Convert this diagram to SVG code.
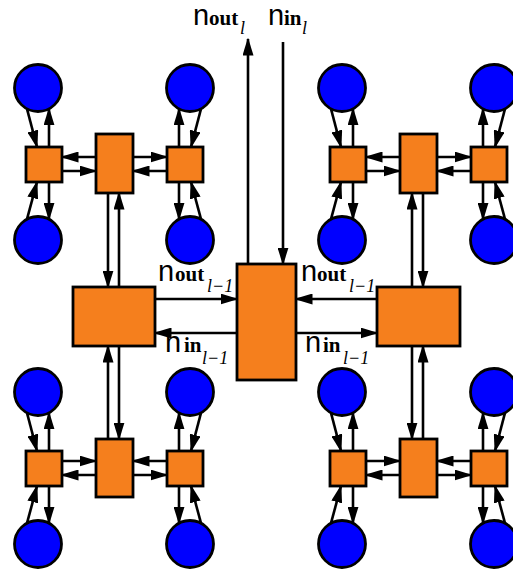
<svg xmlns="http://www.w3.org/2000/svg" width="513" height="569" viewBox="0 0 513 569">
<style>
.box{fill:#F57F1D;stroke:#000;stroke-width:2.8}
.dot{fill:#0000FF;stroke:#000;stroke-width:2.8}
.cn path{fill:none;stroke:#000;stroke-width:2.6;marker-end:url(#ah)}
.n{font-family:"Liberation Sans",Arial,sans-serif;font-size:29px}
.b{font-family:"Liberation Serif","Times New Roman",serif;font-weight:bold;font-size:21px}
.s{font-family:"Liberation Serif","Times New Roman",serif;font-style:italic;font-size:18px}
</style>
<defs>
<marker id="ah" markerWidth="18" markerHeight="11" refX="16.5" refY="5.5" orient="auto" markerUnits="userSpaceOnUse"><path d="M0,0 L18,5.5 L0,11 z" fill="#000"/></marker>
</defs>
<rect width="513" height="569" fill="#fff"/>
<g id="connectors" class="cn">
<!-- top-left cluster -->
<path d="M49,147 L49,108.8"/><path d="M27,108.8 L37,147"/>
<path d="M49,182 L49,219.2"/><path d="M27,219.2 L37,182"/>
<path d="M179,147 L179,108.8"/><path d="M201,108.8 L191,147"/>
<path d="M179,182 L179,219.2"/><path d="M201,219.2 L191,182"/>
<path d="M96,157 L62,157"/><path d="M62,171 L96,171"/>
<path d="M133,157 L167,157"/><path d="M167,171 L133,171"/>
<!-- bottom-left cluster -->
<path d="M49,451 L49,412.8"/><path d="M27,412.8 L37,451"/>
<path d="M49,486 L49,523.2"/><path d="M27,523.2 L37,486"/>
<path d="M179,451 L179,412.8"/><path d="M201,412.8 L191,451"/>
<path d="M179,486 L179,523.2"/><path d="M201,523.2 L191,486"/>
<path d="M62,461 L96,461"/><path d="M96,475 L62,475"/>
<path d="M167,461 L133,461"/><path d="M133,475 L167,475"/>
<!-- top-right cluster -->
<path d="M353,147 L353,108.8"/><path d="M331,108.8 L341,147"/>
<path d="M353,182 L353,219.2"/><path d="M331,219.2 L341,182"/>
<path d="M483,147 L483,108.8"/><path d="M505,108.8 L495,147"/>
<path d="M483,182 L483,219.2"/><path d="M505,219.2 L495,182"/>
<path d="M400,157 L366,157"/><path d="M366,171 L400,171"/>
<path d="M437,157 L471,157"/><path d="M471,171 L437,171"/>
<!-- bottom-right cluster -->
<path d="M353,451 L353,412.8"/><path d="M331,412.8 L341,451"/>
<path d="M353,486 L353,523.2"/><path d="M331,523.2 L341,486"/>
<path d="M483,451 L483,412.8"/><path d="M505,412.8 L495,451"/>
<path d="M483,486 L483,523.2"/><path d="M505,523.2 L495,486"/>
<path d="M366,461 L400,461"/><path d="M400,475 L366,475"/>
<path d="M471,461 L437,461"/><path d="M437,475 L471,475"/>
<!-- level links -->
<path d="M108,193 L108,287"/><path d="M119,287 L119,193"/>
<path d="M108,439 L108,346"/><path d="M119,346 L119,439"/>
<path d="M412,287 L412,193"/><path d="M423,193 L423,287"/>
<path d="M412,346 L412,439"/><path d="M423,439 L423,346"/>
<path d="M155,299 L237,299"/><path d="M237,333 L155,333"/>
<path d="M377,299 L296,299"/><path d="M296,333 L377,333"/>
<path d="M248,264 L248,39"/><path d="M283,42 L283,264"/>
</g>
<g id="tl">
<circle id="tl-c1" class="dot" cx="38" cy="88" r="23.5"/>
<circle id="tl-c2" class="dot" cx="190" cy="88" r="23.5"/>
<circle id="tl-c3" class="dot" cx="38" cy="240" r="23.5"/>
<circle id="tl-c4" class="dot" cx="190" cy="240" r="23.5"/>
<rect id="tl-a" class="box" x="26" y="147" width="36" height="35"/>
<rect id="tl-b" class="box" x="167" y="147" width="36" height="35"/>
<rect id="tl-m" class="box" x="96" y="134" width="37" height="59"/>
</g>
<g id="bl">
<circle id="bl-c1" class="dot" cx="38" cy="392" r="23.5"/>
<circle id="bl-c2" class="dot" cx="190" cy="392" r="23.5"/>
<circle id="bl-c3" class="dot" cx="38" cy="544" r="23.5"/>
<circle id="bl-c4" class="dot" cx="190" cy="544" r="23.5"/>
<rect id="bl-a" class="box" x="26" y="451" width="36" height="35"/>
<rect id="bl-b" class="box" x="167" y="451" width="36" height="35"/>
<rect id="bl-m" class="box" x="96" y="439" width="37" height="58"/>
</g>
<g id="tr">
<circle id="tr-c1" class="dot" cx="342" cy="88" r="23.5"/>
<circle id="tr-c2" class="dot" cx="494" cy="88" r="23.5"/>
<circle id="tr-c3" class="dot" cx="342" cy="240" r="23.5"/>
<circle id="tr-c4" class="dot" cx="494" cy="240" r="23.5"/>
<rect id="tr-a" class="box" x="330" y="147" width="36" height="35"/>
<rect id="tr-b" class="box" x="471" y="147" width="36" height="35"/>
<rect id="tr-m" class="box" x="400" y="134" width="37" height="59"/>
</g>
<g id="br">
<circle id="br-c1" class="dot" cx="342" cy="392" r="23.5"/>
<circle id="br-c2" class="dot" cx="494" cy="392" r="23.5"/>
<circle id="br-c3" class="dot" cx="342" cy="544" r="23.5"/>
<circle id="br-c4" class="dot" cx="494" cy="544" r="23.5"/>
<rect id="br-a" class="box" x="330" y="451" width="36" height="35"/>
<rect id="br-b" class="box" x="471" y="451" width="36" height="35"/>
<rect id="br-m" class="box" x="400" y="439" width="37" height="58"/>
</g>
<g id="big-left"><rect class="box" x="73" y="287" width="82" height="59"/></g>
<g id="big-right"><rect class="box" x="377" y="287" width="83" height="59"/></g>
<g id="center"><rect class="box" x="237" y="264" width="59" height="116"/></g>
<g id="labels">
<text><tspan class="n" x="193" y="25">n</tspan><tspan class="b" x="209" y="25">out</tspan><tspan class="s" x="240" y="34">l</tspan></text>
<text><tspan class="n" x="268" y="25">n</tspan><tspan class="b" x="284" y="25">in</tspan><tspan class="s" x="302" y="34">l</tspan></text>
<text><tspan class="n" x="158" y="281">n</tspan><tspan class="b" x="175" y="281">out</tspan><tspan class="s" x="207" y="292">l−1</tspan></text>
<text><tspan class="n" x="301" y="281">n</tspan><tspan class="b" x="317" y="281">out</tspan><tspan class="s" x="349" y="292">l−1</tspan></text>
<text><tspan class="n" x="165" y="352">n</tspan><tspan class="b" x="184" y="352">in</tspan><tspan class="s" x="202" y="364">l−1</tspan></text>
<text><tspan class="n" x="305" y="352">n</tspan><tspan class="b" x="323" y="352">in</tspan><tspan class="s" x="343" y="364">l−1</tspan></text>
</g>
</svg>
